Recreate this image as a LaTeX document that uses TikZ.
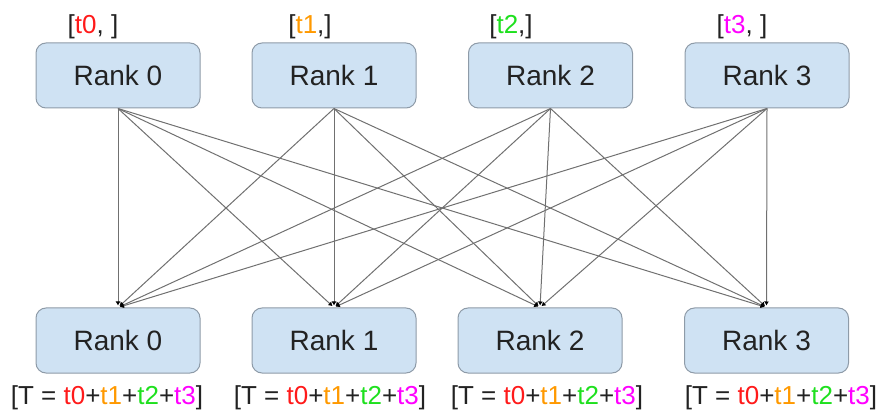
\documentclass[tikz,border=0pt]{standalone}
\usepackage{fontspec}
\setmainfont{Liberation Sans}
\usetikzlibrary{arrows.meta}
\definecolor{boxfill}{HTML}{CFE2F3}
\definecolor{boxdraw}{HTML}{8E9BA8}
\definecolor{txt}{HTML}{222222}
\definecolor{cr}{HTML}{FF1A1A}
\definecolor{co}{HTML}{FF9900}
\definecolor{cg}{HTML}{1EE01E}
\definecolor{cm}{HTML}{FF00FF}
\definecolor{link}{HTML}{707070}
\tikzset{
  rankbox/.style={draw=boxdraw, line width=1pt, fill=boxfill, rounded corners=10pt,
    minimum width=164pt, minimum height=65pt, inner sep=0pt, text=txt,
    font=\fontsize{28}{32}\selectfont},
  lbl/.style={inner sep=0pt, text=txt, font=\fontsize{26}{30}\selectfont},
  conn/.style={draw=link, line width=1pt, -{Latex[length=4pt,width=5pt,color=black]}}
}
\newcommand{\sumlabel}{[T = \textcolor{cr}{t0}+\textcolor{co}{t1}+\textcolor{cg}{t2}+\textcolor{cm}{t3}]}
\begin{document}
\begin{tikzpicture}[x=1pt,y=-1pt]
\useasboundingbox (0,0) rectangle (879,414);
\node[rankbox] (t0) at (118,75.5) {Rank 0};
\node[rankbox] (t1) at (334,75.5) {Rank 1};
\node[rankbox] (t2) at (550.5,75.5) {Rank 2};
\node[rankbox] (t3) at (767,75.5) {Rank 3};
\node[rankbox] (b0) at (118,340.5) {Rank 0};
\node[rankbox] (b1) at (334,340.5) {Rank 1};
\node[rankbox] (b2) at (540,340.5) {Rank 2};
\node[rankbox] (b3) at (766.5,340.5) {Rank 3};
\node[lbl] (l0) at (93,27) {[\textcolor{cr}{t0}, ]};
\node[lbl] (l1) at (310,27) {[\textcolor{co}{t1},]};
\node[lbl] (l2) at (511,27) {[\textcolor{cg}{t2},]};
\node[lbl] (l3) at (742,27) {[\textcolor{cm}{t3}, ]};
\node[lbl] (s0) at (107,398) {\sumlabel};
\node[lbl] (s1) at (330,398) {\sumlabel};
\node[lbl] (s2) at (547,398) {\sumlabel};
\node[lbl] (s3) at (781,398) {\sumlabel};
\foreach \i in {0,1,2,3}{
  \foreach \j in {0,1,2,3}{
    \draw[conn, shorten >=2pt] (t\i.south) -- (b\j.north);
  }
}
\end{tikzpicture}
\end{document}
